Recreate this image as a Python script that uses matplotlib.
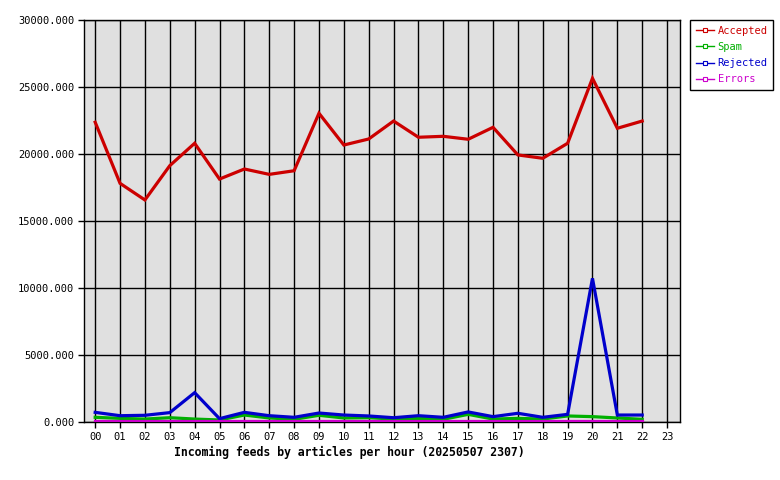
import matplotlib
matplotlib.use("Agg")
import matplotlib.pyplot as plt
from matplotlib.lines import Line2D

hours = list(range(23))
hour_labels = [f"{h:02d}" for h in range(24)]

accepted = [22370, 17810, 16570, 19130, 20800, 18130, 18880, 18480, 18750, 23040,
            20670, 21120, 22460, 21250, 21320, 21100, 21990, 19930, 19680, 20800,
            25650, 21920, 22460]
spam = [350, 270, 220, 320, 220, 150, 520, 300, 200, 500,
        300, 320, 220, 270, 200, 570, 220, 270, 220, 450,
        400, 300, 200]
rejected = [720, 470, 500, 700, 2190, 250, 720, 470, 350, 670,
            520, 450, 320, 470, 350, 750, 400, 650, 350, 570,
            10720, 520, 520]
errors = [60, 60, 60, 60, 60, 60, 60, 60, 60, 60,
          60, 60, 60, 60, 60, 60, 60, 60, 60, 60,
          60, 60, 60]

series = [("Accepted", accepted, "#cc0000"),
          ("Spam", spam, "#00b000"),
          ("Rejected", rejected, "#0000cc"),
          ("Errors", errors, "#cc00cc")]

W, H = 780, 480
fig = plt.figure(figsize=(7.8, 4.8), dpi=100)
fig.patch.set_facecolor("white")
ax = fig.add_axes([84 / W, (H - 422) / H, 596 / W, 402 / H])
ax.set_facecolor("#e0e0e0")

mono = "DejaVu Sans Mono"

for name, vals, col in series:
    ax.plot(hours, vals, color=col, lw=2.3, solid_joinstyle="miter", zorder=3)

ax.set_xlim(-0.45, 23.52)
ax.set_ylim(0, 30000)
ax.set_xticks(range(24))
ax.set_xticklabels(hour_labels, fontsize=7.5, family=mono)
ax.set_yticks(range(0, 30001, 5000))
ax.set_yticklabels([f"{v:.3f}" for v in range(0, 30001, 5000)], fontsize=7.5, family=mono)
ax.grid(True, color="black", lw=1.0, zorder=1)
ax.set_axisbelow(True)
for s in ax.spines.values():
    s.set_color("black")
    s.set_linewidth(1.0)
ax.tick_params(axis="both", direction="out", length=4, width=1, color="black", pad=3)

fig.text(349 / W, 1 - 452 / H, "Incoming feeds by articles per hour (20250507 2307)",
         ha="center", va="center", fontsize=8.3, family=mono, fontweight="bold")

handles = [Line2D([0], [0], color=c, lw=1.0, marker="s", markersize=3,
                  markerfacecolor="white", markeredgecolor=c, markeredgewidth=0.8)
           for _, _, c in series]
leg = fig.legend(handles, [n for n, _, _ in series], loc="upper left",
                 bbox_to_anchor=(690 / W, 1 - 20 / H), frameon=True,
                 fancybox=False, edgecolor="black", framealpha=1,
                 prop={"family": mono, "size": 7.5}, handlelength=1.8,
                 handletextpad=0.3, borderpad=0.55, labelspacing=0.6,
                 borderaxespad=0)
leg.get_frame().set_linewidth(1.0)
for t, (_, _, c) in zip(leg.get_texts(), series):
    t.set_color(c)

fig.savefig("out.png", dpi=100)
